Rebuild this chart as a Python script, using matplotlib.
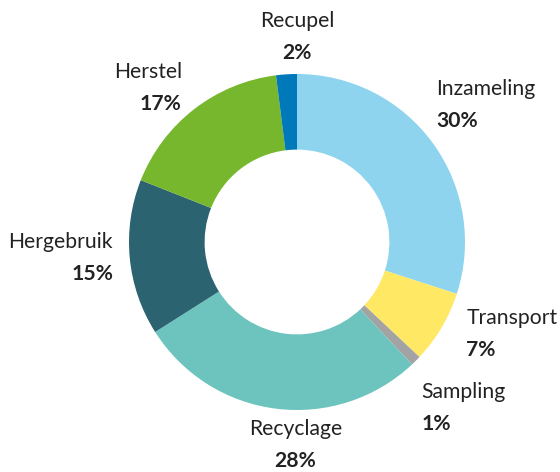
import numpy as np
import matplotlib.pyplot as plt

# gegevens
categories = ["Inzameling", "Transport", "Sampling", "Recyclage", "Hergebruik", "Herstel", "Recupel"]
values = [30, 7, 1, 28, 15, 17, 2]
colors = ["#8ED4EE", "#FFE864", "#A3A3A3", "#6DC4BE", "#2C6370", "#76B72D", "#0079BA"]

# kleine verschuivingen van de labels (data-eenheden)
nudges = {
    "Inzameling": (-0.14, 0.11),
    "Transport": (-0.025, 0.065),
    "Sampling": (-0.107, -0.137),
    "Recyclage": (0.14, -0.02),
    "Hergebruik": (0.10, 0.02),
    "Herstel": (0.05, -0.03),
    "Recupel": (0.075, 0.02),
}

plt.rcParams['font.family'] = ['Lato', 'DejaVu Sans']
txt_color = "#222222"

fig = plt.figure(figsize=(5.6, 4.72), dpi=100)
ax = fig.add_axes([0, 0, 1, 1])

wedges, _ = ax.pie(values, colors=colors, startangle=90, counterclock=False,
                   radius=1.0, wedgeprops=dict(width=0.45, edgecolor='none'))

# labels buiten de ring
total = sum(values)
cum = 0
for name, v in zip(categories, values):
    mid = 90 - (cum + v / 2) / total * 360
    cum += v
    ang = np.deg2rad(mid)
    x, y = 1.2 * np.cos(ang), 1.2 * np.sin(ang)
    if abs(np.cos(ang)) < 0.2:
        ha = 'center'
    elif np.cos(ang) > 0:
        ha = 'left'
    else:
        ha = 'right'
    dx, dy = nudges.get(name, (0, 0))
    x += dx
    y += dy
    ax.text(x, y + 0.095, name, ha=ha, va='center', fontsize=15.2, color=txt_color)
    ax.text(x, y - 0.095, f"{v}%", ha=ha, va='center', fontsize=15.2,
            fontweight='bold', color=txt_color)

# pixels -> data: middelpunt (297, 230 vanaf onder), straal 168 px
r_px = 168
ax.set_xlim(-297 / r_px, (560 - 297) / r_px)
ax.set_ylim(-230 / r_px, (472 - 230) / r_px)
ax.set_aspect('equal')
ax.axis('off')

fig.savefig("out.png", dpi=100)
